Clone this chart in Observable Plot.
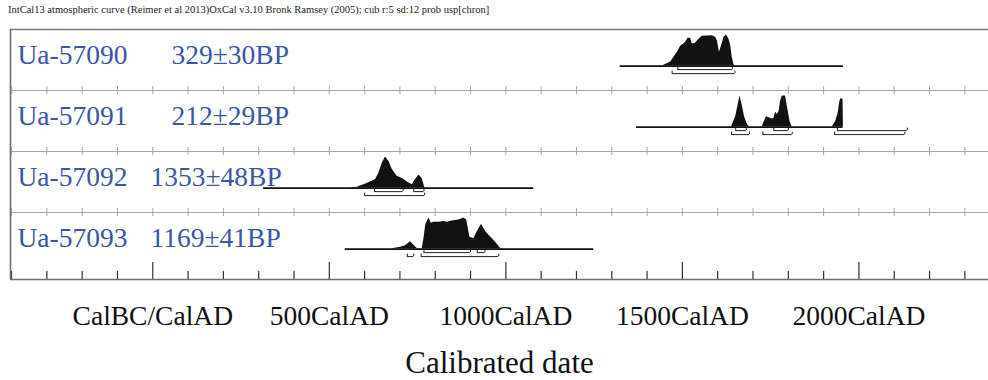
<!DOCTYPE html>
<html><head><meta charset="utf-8">
<script src="https://cdn.jsdelivr.net/npm/d3@7"></script>
<script src="https://cdn.jsdelivr.net/npm/@observablehq/plot@0.6"></script>
<style>
html,body{margin:0;padding:0;background:#fff;}
#wrap{position:relative;width:988px;height:380px;overflow:hidden;}
#title{position:absolute;left:8px;top:4px;font:10.5px "Liberation Serif",serif;color:#222;white-space:nowrap;}
</style></head><body><div id="wrap"><div id="title"></div></div>
<script>
// ---- data ----
const chartTitle = "IntCal13 atmospheric curve (Reimer et al 2013)OxCal v3.10 Bronk Ramsey (2005); cub r:5 sd:12 prob usp[chron]";
const axisTitle = "Calibrated date";
const labNames = ["Ua-57090", "Ua-57091", "Ua-57092", "Ua-57093"];
const bpDates = ["329±30BP", "212±29BP", "1353±48BP", "1169±41BP"];
const curveFrom = [1324, 1370, 314, 545];
const curveTo = [1956, 1955, 1079, 1249];

const years1 = [1443,1467,1486,1495,1504,1509,1516,1523,1528,1537,1547,1556,1585,1594,1599,1605,1611,1618,1625,1632,1637,1641,1646,1651];
const prob1  = [0,13,45,64,71,77,90,90,71,74,87,96,98,93,82,45,66,93,100,87,66,29,4,0];
const years2 = [1639,1651,1658,1663,1670,1676,1684,1690,1726,1731,1738,1745,1755,1759,1764,1769,1774,1778,1783,1792,1799,1805,1811,1924,1934,1941,1946,1950,1955,1956];
const prob2  = [0,33,72,100,67,33,8,0,0,14,33,30,26,28,48,41,50,83,100,100,56,17,0,0,17,44,83,92,89,0];
const years3 = [551,579,598,617,631,640,650,659,669,678,692,707,721,735,744,754,763,770,773];
const prob3  = [0,3,11,20,28,47,80,100,86,61,38,31,20,11,28,42,31,3,0];
const years4 = [673,702,716,730,739,749,763,768,773,782,789,796,810,824,834,848,867,881,889,898,909,919,931,943,957,971,985,994];
const prob4  = [0,6,11,24,13,2,0,33,78,100,83,87,87,89,87,91,94,100,94,39,33,56,80,56,39,22,2,0];

const sigma1 = [[[1487,1641]], [[1651,1681],[1759,1800],[1939,2137]], [[628,709],[739,768]], [[768,900],[919,941]]];
const sigma2 = [[[1471,1649]], [[1639,1690],[1728,1811],[1931,2130]], [[600,770]], [[721,739],[760,980]]];

const tickYears = [0, 500, 1000, 1500, 2000];
const tickLabels = ["CalBC/CalAD", "500CalAD", "1000CalAD", "1500CalAD", "2000CalAD"];

// ---- build tables ----
document.getElementById("title").textContent = chartTitle;
const PX = 61;                 // pixels per row unit
const yMax = 250 / PX;         // last row is a bit taller (axis ticks)
const base = 0.6;              // baseline position inside a row
const hUnit = 31 / PX / 100;   // 100% probability height
const xMin = -403, xMax = 2367;

const dens = [];
[[years1, prob1], [years2, prob2], [years3, prob3], [years4, prob4]].forEach(([ys, ps], r) =>
  ys.forEach((y, i) => dens.push({row: r, year: y, p: ps[i]})));
const rows = labNames.map((n, r) => ({row: r, name: n, date: bpDates[r], from: curveFrom[r], to: curveTo[r]}));
const brackets = [];
sigma1.forEach((list, r) => list.forEach(([a, b]) => brackets.push({row: r, a, b, off: 3.5 / PX})));
sigma2.forEach((list, r) => list.forEach(([a, b]) => brackets.push({row: r, a, b, off: 7.5 / PX})));
const ends = brackets.flatMap(d => [{...d, x: d.a}, {...d, x: d.b}]);

const gridYears = d3.range(-400, xMax, 100);
const sepTicks = [1, 2, 3].flatMap(s => gridYears.map(x => ({s, x})));

const labelStyle = {frameAnchor: "left", y: d => d.row + 0.566, textAnchor: "start", lineAnchor: "bottom", fontSize: 27.5, fill: "#3a56a8"};

const plot = Plot.plot({
  width: 988, height: 380,
  marginTop: 29, marginBottom: 101, marginLeft: 10, marginRight: 0,
  x: {domain: [xMin, xMax], axis: null},
  y: {domain: [0, yMax], reverse: true, axis: null},
  style: {fontFamily: '"Liberation Serif", "Times New Roman", serif', background: "white", overflow: "visible"},
  marks: [
    Plot.ruleY([1, 2, 3], {stroke: "#a6a6a6", strokeWidth: 1.2}),
    Plot.ruleX(sepTicks, {x: "x", y1: d => d.s - 4 / PX, y2: d => d.s + 4 / PX, stroke: "#a6a6a6", strokeWidth: 1}),
    Plot.ruleY([0], {stroke: "#7a7a7a", strokeWidth: 1.6}),
    Plot.ruleX(gridYears, {x: d => d, y1: yMax, y2: d => yMax - (d % 500 === 0 ? 17 : 8) / PX, stroke: "#333", strokeWidth: 1.2}),
    Plot.ruleY([yMax], {stroke: "#6e6e6e", strokeWidth: 1.6}),
    Plot.ruleX([xMin], {y1: 0, y2: yMax, stroke: "#6e6e6e", strokeWidth: 1.6}),
    Plot.areaY(dens, {x: "year", y1: d => d.row + base, y2: d => d.row + base - d.p * hUnit, z: "row", fill: "#111", curve: "linear"}),
    Plot.ruleY(rows, {y: d => d.row + base, x1: "from", x2: "to", stroke: "#111", strokeWidth: 1.6}),
    Plot.ruleY(brackets, {y: d => d.row + base + d.off, x1: "a", x2: "b", stroke: "#222", strokeWidth: 1}),
    Plot.ruleX(ends, {x: "x", y1: d => d.row + base + d.off, y2: d => d.row + base + d.off - 2.5 / PX, stroke: "#222", strokeWidth: 1}),
    Plot.text(rows, {...labelStyle, text: "name", dx: 7}),
    Plot.text(rows, {...labelStyle, text: "date", dx: 161, filter: d => d.date.length <= 8}),
    Plot.text(rows, {...labelStyle, text: "date", dx: 140, filter: d => d.date.length > 8}),
    Plot.text(tickYears, {x: d => d, y: yMax, dy: 45, text: (d, i) => tickLabels[i], lineAnchor: "bottom", fontSize: 27.5, fill: "#111"}),
    Plot.text([axisTitle], {frameAnchor: "bottom", dy: 93, lineAnchor: "bottom", fontSize: 31, fill: "#111"})
  ]
});
document.getElementById("wrap").appendChild(plot);
</script></body></html>
